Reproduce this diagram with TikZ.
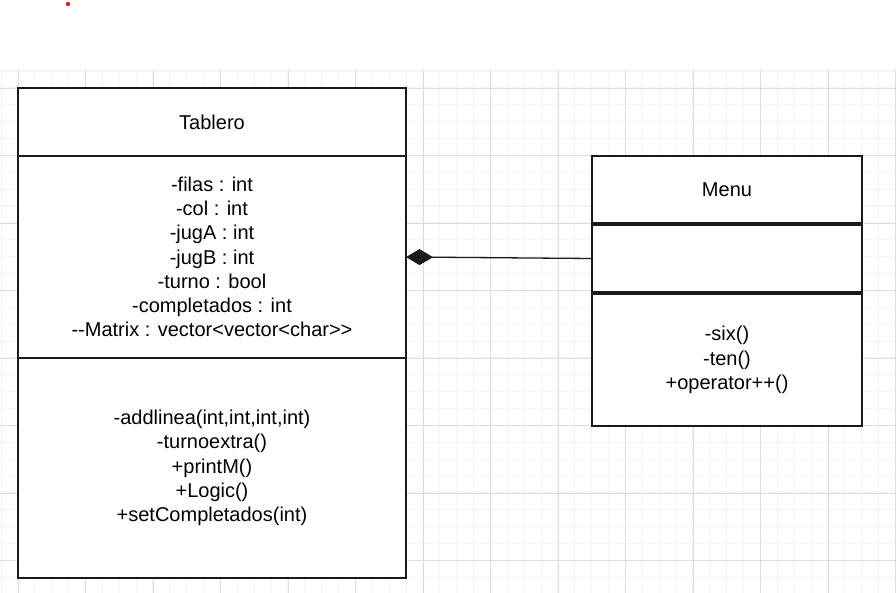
\documentclass[tikz,border=0pt]{standalone}
\usepackage{fontspec}
\newfontfamily\umlfont{Liberation Sans}
\usepackage{tikz}
\usetikzlibrary{arrows.meta}
\usetikzlibrary{positioning}
\definecolor{gridminor}{HTML}{F5F5F5}
\definecolor{gridmajor}{HTML}{DEDEDE}
\definecolor{dotred}{HTML}{E02020}
\definecolor{umlline}{HTML}{1A1A1A}

\begin{document}
\begin{tikzpicture} [
            x=1pt, y=-1pt,
            % ----- Node definitions ----- %
            classpart/.style = {
                    draw = umlline,
                line width = 1.3pt,
                rectangle,
                fill = white,
                align = center,
                inner sep = 0pt,
                outer sep = 0pt,
                font = \umlfont\fontsize{20}{24.2}\selectfont
            },
            tablerobox/.style = {classpart, minimum width = 388pt},
            menubox/.style = {classpart, minimum width = 270pt},
            composition/.style = {
                draw = umlline,
                line width = 1.3pt,
                -{Diamond[length=27pt, width=16pt]}
            },
    ]
    \useasboundingbox (0,0) rectangle (896,593);

            % ----- Background grid ----- %
        \foreach \gx in {0,...,53}
            \draw[gridminor, line width=1.2pt] ({1.1+16.875*\gx},70) -- ++(0,523);
        \foreach \gy in {0,...,31}
            \draw[gridminor, line width=1.2pt] (0,{71.1+16.875*\gy}) -- ++(896,0);
        \foreach \gx in {0,...,13}
            \draw[gridmajor, line width=0.8pt] ({18+67.5*\gx},70) -- ++(0,523);
        \foreach \gy in {0,...,7}
            \draw[gridmajor, line width=0.8pt] (0,{88+67.5*\gy}) -- ++(896,0);

        \fill[dotred] (68,4) circle (2.2pt);

            % ----- Node constructions ----- %
        \node [tablerobox, minimum height=68pt] (tabHead) at (212,122) {Tablero};
        \node [tablerobox, minimum height=202pt, below=0pt of tabHead] (tabAttr) {
                -filas : int \\
                -col : int \\
                -jugA : int \\
                -jugB : int \\
                -turno : bool \\
                -completados : int \\
                --Matrix : vector<vector<char>>
        };
        \node [tablerobox, minimum height=220pt, below=0pt of tabAttr] (tabMeth) {
                -addlinea(int,int,int,int) \\
                -turnoextra() \\
                +printM() \\
                +Logic() \\
                +setCompletados(int)
        };

        \node [menubox, minimum height=67pt] (menuHead) at (727,189.5) {Menu};
        \node [menubox, minimum height=67pt, below=2pt of menuHead] (menuAttr) {};
        \node [menubox, minimum height=132pt, below=2pt of menuAttr] (menuMeth) {
                -six() \\
                -ten() \\
                +operator++()
        };

            % ----- Connections ----- %
        \draw [composition] (menuAttr.west) -- (tabAttr.east);

\end{tikzpicture}
\end{document}
